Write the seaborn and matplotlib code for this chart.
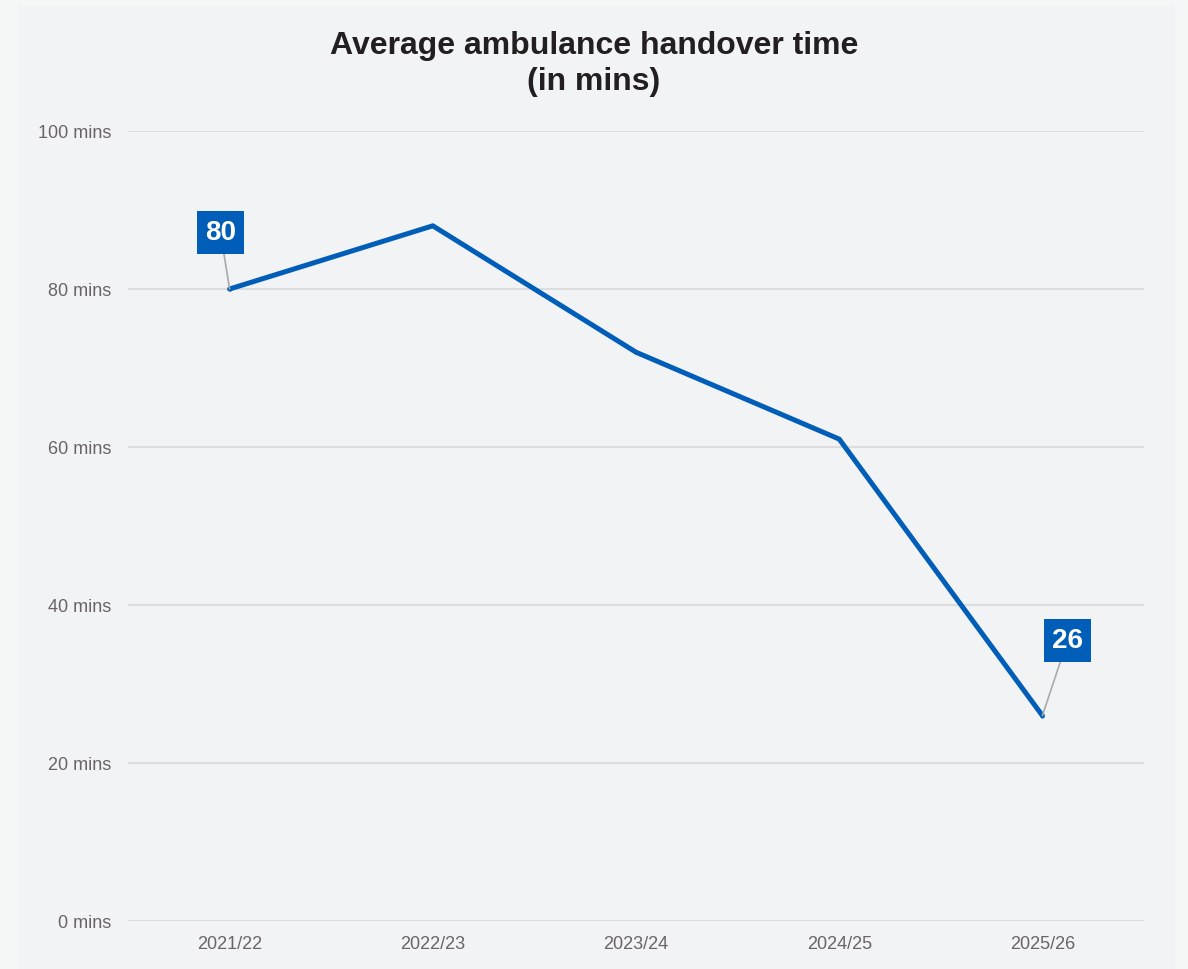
import matplotlib
matplotlib.use("Agg")
import matplotlib.pyplot as plt
from matplotlib.patches import Rectangle
import pandas as pd
import seaborn as sns

years = ["2021/22", "2022/23", "2023/24", "2024/25", "2025/26"]
handover_mins = [80, 88, 72, 61, 26]
labelled_years = ["2021/22", "2025/26"]
y_ticks = [0, 20, 40, 60, 80, 100]

LINE_BLUE = "#005EB8"
GRID = "#dcdcdf"
TICK_GREY = "#6b6466"

sns.set_theme(style="white")
plt.rcParams["font.family"] = ["Liberation Sans", "DejaVu Sans"]

df = pd.DataFrame({"year": years, "mins": handover_mins})
df["pos"] = range(len(years))

fig = plt.figure(figsize=(11.88, 9.69), dpi=100, facecolor="#f5f6f6")
# inner panel behind the chart
fig.patches.append(Rectangle((18 / 1188, 0), (1175 - 18) / 1188, 1 - 5 / 969,
                             transform=fig.transFigure, facecolor="#f2f3f5",
                             edgecolor="none", zorder=-10))
ax = fig.add_axes([128 / 1188, 1 - 921 / 969, (1144 - 128) / 1188, (921 - 131) / 969])
ax.set_facecolor("none")
ax.set_zorder(5)

sns.lineplot(data=df, x="pos", y="mins", ax=ax, color=LINE_BLUE, linewidth=3.6,
             marker="o", markersize=3, markeredgewidth=0, zorder=3)

ax.set_xlim(-0.5, len(years) - 0.5)
ax.set_ylim(0, 100)
ax.set_xticks(df["pos"])
ax.set_xticklabels(years)
ax.set_yticks(y_ticks)
ax.set_yticklabels([f"{v} mins" for v in y_ticks])
ax.tick_params(axis="both", colors=TICK_GREY, labelsize=13, length=0)
ax.tick_params(axis="y", pad=12)
ax.tick_params(axis="x", pad=11)
ax.set_xlabel("")
ax.set_ylabel("")
ax.yaxis.grid(True, color=GRID, linewidth=1.5)
ax.xaxis.grid(False)
for s in ax.spines.values():
    s.set_visible(False)

# value callouts
offsets = {"2021/22": (-6.5, 40.5), "2025/26": (18, 54)}
for _, row in df[df["year"].isin(labelled_years)].iterrows():
    ax.annotate(f"{row['mins']}", xy=(row["pos"], row["mins"]),
                xytext=offsets[row["year"]], textcoords="offset points",
                ha="center", va="center", color="white", fontsize=20,
                fontweight="bold",
                bbox=dict(boxstyle="square,pad=0.3", fc=LINE_BLUE, ec="none"),
                arrowprops=dict(arrowstyle="-", color="#a9a9ab", lw=1.2,
                                shrinkA=0, shrinkB=0),
                zorder=5)

fig.text(0.5, 1 - 64 / 969, "Average ambulance handover time\n(in mins)",
         ha="center", va="center", fontsize=23, fontweight="bold",
         color="#231f20", linespacing=1.3)

fig.savefig("out.png", dpi=100, facecolor=fig.get_facecolor())
